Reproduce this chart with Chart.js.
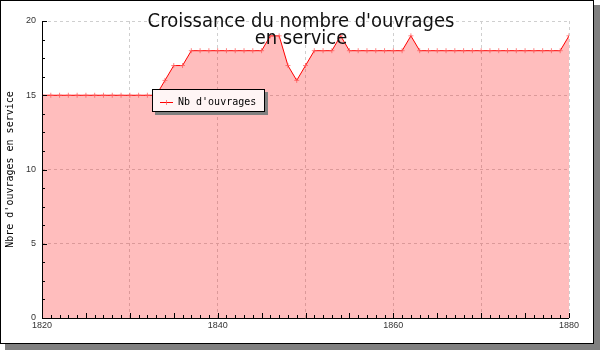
<!DOCTYPE html>
<html>
<head>
<meta charset="utf-8">
<script src="https://cdn.jsdelivr.net/npm/chart.js@4"></script>
<style>
  body { margin: 0; background: #fff; }
  #wrap { width: 600px; height: 350px; }
</style>
</head>
<body>
<div id="wrap"><canvas id="ouvrages-chart" width="600" height="350"></canvas></div>
<script>
// années et nombre d'ouvrages en service
const years = [
    1820, 1821, 1822, 1823, 1824, 1825, 1826, 1827, 1828, 1829,
    1830, 1831, 1832, 1833, 1834, 1835, 1836, 1837, 1838, 1839,
    1840, 1841, 1842, 1843, 1844, 1845, 1846, 1847, 1848, 1849,
    1850, 1851, 1852, 1853, 1854, 1855, 1856, 1857, 1858, 1859,
    1860, 1861, 1862, 1863, 1864, 1865, 1866, 1867, 1868, 1869,
    1870, 1871, 1872, 1873, 1874, 1875, 1876, 1877, 1878, 1879,
    1880
]
const nb_ouvrages = [
    15, 15, 15, 15, 15, 15, 15, 15, 15, 15,
    15, 15, 15, 15, 16, 17, 17, 18, 18, 18,
    18, 18, 18, 18, 18, 18, 19, 19, 17, 16,
    17, 18, 18, 18, 19, 18, 18, 18, 18, 18,
    18, 18, 19, 18, 18, 18, 18, 18, 18, 18,
    18, 18, 18, 18, 18, 18, 18, 18, 18, 18,
    19
]
const x_labels = [1820, 1840, 1860, 1880]
const y_labels = [0, 5, 10, 15, 20]
const title_lines = ["Croissance du nombre d'ouvrages", "en service"]
const y_title = "Nbre d'ouvrages en service"
const serie_label = "Nb d'ouvrages"

// cadre blanc avec ombre grise
const frame_plugin = {
    id: 'frame',
    beforeDraw(chart) {
        let ctx = chart.ctx
        ctx.save()
        ctx.fillStyle = '#808080'
        ctx.fillRect(5, 5, 595, 345)
        ctx.fillStyle = '#ffffff'
        ctx.fillRect(0, 0, 594, 344)
        ctx.strokeStyle = '#000'
        ctx.lineWidth = 1
        ctx.strokeRect(0.5, 0.5, 593, 343)
        ctx.restore()
    }
}

// petites graduations tournées vers l'intérieur
const ticks_plugin = {
    id: 'inner_ticks',
    afterDatasetsDraw(chart) {
        let ctx = chart.ctx
        let xs = chart.scales.x
        let ys = chart.scales.y
        let area = chart.chartArea
        ctx.save()
        ctx.strokeStyle = '#000'
        ctx.lineWidth = 1
        ctx.beginPath()
        for (let yr = xs.min; yr <= xs.max; yr++) {
            let px = Math.round(xs.getPixelForValue(yr)) + 0.5
            let len = (yr % 5 === 0) ? 5 : 3
            ctx.moveTo(px, area.bottom)
            ctx.lineTo(px, area.bottom - len)
        }
        for (let v = ys.min; v <= ys.max; v += 1.25) {
            let py = Math.round(ys.getPixelForValue(v)) + 0.5
            let len = (v % 5 === 0) ? 5 : 3
            ctx.moveTo(area.left, py)
            ctx.lineTo(area.left + len, py)
        }
        ctx.stroke()
        // axes
        ctx.beginPath()
        ctx.moveTo(area.left + 0.5, area.top)
        ctx.lineTo(area.left + 0.5, area.bottom + 0.5)
        ctx.lineTo(area.right, area.bottom + 0.5)
        ctx.stroke()
        ctx.restore()
    }
}

// titre sur deux lignes, posé par-dessus la zone du graphique
const title_plugin = {
    id: 'title_overlay',
    afterDraw(chart) {
        let ctx = chart.ctx
        ctx.save()
        ctx.fillStyle = '#111'
        ctx.font = "20px 'DejaVu Sans Condensed', 'DejaVu Sans'"
        ctx.textAlign = 'center'
        ctx.textBaseline = 'alphabetic'
        ctx.fillText(title_lines[0], 301, 26.5)
        ctx.fillText(title_lines[1], 301, 43.5)
        ctx.restore()
    }
}

// légende encadrée avec ombre
const legend_plugin = {
    id: 'legend_box',
    afterDraw(chart) {
        let ctx = chart.ctx
        let ds = chart.data.datasets[0]
        ctx.save()
        ctx.fillStyle = '#808080'
        ctx.fillRect(155, 92, 113, 23)
        ctx.fillStyle = '#fff5f5'
        ctx.fillRect(152, 89, 113, 23)
        ctx.strokeStyle = '#000'
        ctx.lineWidth = 1
        ctx.strokeRect(152.5, 89.5, 112, 22)
        ctx.strokeStyle = ds.borderColor
        ctx.beginPath()
        ctx.moveTo(160, 102.5)
        ctx.lineTo(173, 102.5)
        ctx.stroke()
        ctx.strokeStyle = ds.pointBorderColor
        ctx.beginPath()
        ctx.moveTo(166.5, 100)
        ctx.lineTo(166.5, 105)
        ctx.stroke()
        ctx.fillStyle = '#000'
        ctx.font = "10px 'DejaVu Sans Mono'"
        ctx.textBaseline = 'middle'
        ctx.fillText(ds.label, 178, 102)
        ctx.restore()
    }
}

function set_up_chart() {
    const data = {
        labels: years,
        datasets: [{
            label: serie_label,
            data: years.map((y, i) => ({x: y, y: nb_ouvrages[i]})),
            borderColor: '#ff0000',
            borderWidth: 1,
            backgroundColor: 'rgba(255, 0, 0, 0.26)',
            fill: 'origin',
            tension: 0,
            pointStyle: 'cross',
            pointRadius: 2.5,
            pointBorderWidth: 1,
            pointBorderColor: 'rgba(255, 90, 90, 0.75)',
        }]
    }

    const config = {
        type: 'line',
        data: data,
        plugins: [frame_plugin, ticks_plugin, title_plugin, legend_plugin],
        options: {
            responsive: false,
            animation: false,
            devicePixelRatio: 1,
            layout: { padding: { top: 21, right: 31, left: 0, bottom: 0 } },
            plugins: {
                legend: { display: false },
                title: { display: false },
                tooltip: { enabled: false },
            },
            scales: {
                x: {
                    type: 'linear',
                    min: x_labels[0],
                    max: x_labels[x_labels.length - 1],
                    afterBuildTicks(scale) {
                        let t = []
                        for (let v = scale.min; v <= scale.max; v += 10) t.push({value: v})
                        scale.ticks = t
                    },
                    afterFit(scale) { scale.height = 32 },
                    ticks: {
                        callback: (v) => x_labels.includes(v) ? String(v) : '',
                        font: { family: "'Liberation Sans'", size: 9 },
                        color: '#333',
                        padding: 2,
                        maxRotation: 0,
                        autoSkip: false,
                    },
                    grid: { color: '#cfcfcf', drawTicks: false },
                    border: { display: false, dash: [3, 3] },
                },
                y: {
                    min: y_labels[0],
                    max: y_labels[y_labels.length - 1],
                    afterBuildTicks(scale) {
                        scale.ticks = y_labels.map(v => ({value: v}))
                    },
                    afterFit(scale) { scale.width = 42 },
                    ticks: {
                        font: { family: "'Liberation Sans'", size: 9 },
                        color: '#333',
                        padding: 6,
                    },
                    grid: { color: '#cfcfcf', drawTicks: false },
                    border: { display: false, dash: [3, 3] },
                    title: {
                        display: true,
                        text: y_title,
                        font: { family: "'DejaVu Sans Mono'", size: 10 },
                        color: '#000',
                        padding: { top: 4, bottom: 0 },
                    },
                },
            },
        },
    }

    let my_chart = document.querySelector("#ouvrages-chart")
    let crt = new Chart(my_chart, config)
}

set_up_chart()
</script>
</body>
</html>
